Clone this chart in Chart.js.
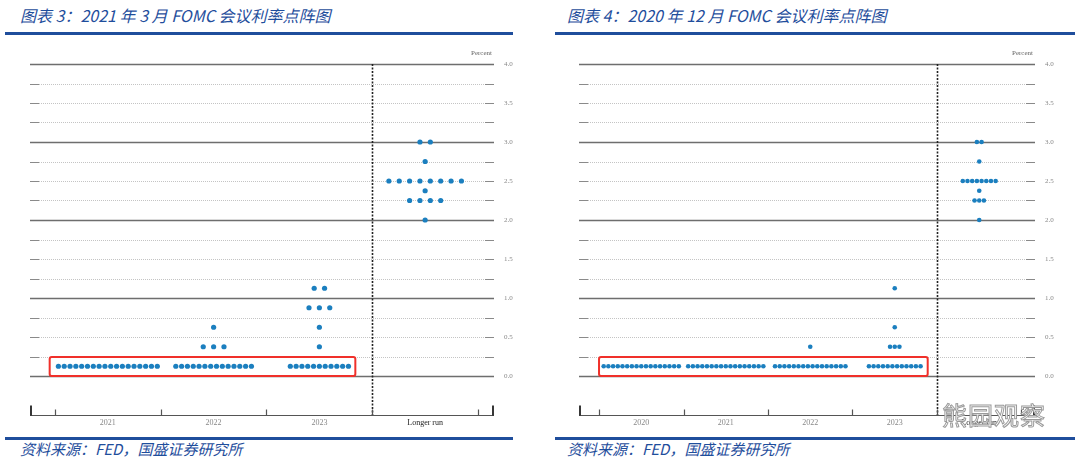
<!DOCTYPE html>
<html>
<head>
<meta charset="utf-8">
<script src="https://cdn.jsdelivr.net/npm/chart.js@4.4.1/dist/chart.umd.min.js"></script>
<style>
body { margin: 0; width: 1080px; height: 462px; background: #fff; position: relative; overflow: hidden; font-family: "Noto Sans CJK SC", sans-serif; }
.title { position: absolute; top: 3px; font-size: 16px; font-style: italic; color: #1f4e9c; white-space: nowrap; }
.source { position: absolute; top: 438px; font-size: 15px; font-style: italic; color: #1f4e9c; white-space: nowrap; }
.rule { position: absolute; height: 3px; background: #1f4e9c; }
canvas { position: absolute; top: 40px; }
.mark { position: absolute; left: 942px; top: 396px; font-size: 25px; color: #fff; -webkit-text-stroke: 1px #9a9a9a; letter-spacing: 1px; }
</style>
</head>
<body>
<div class="title" style="left:20px">图表 3：2021 年 3 月 FOMC 会议利率点阵图</div>
<div class="title" style="left:567px">图表 4：2020 年 12 月 FOMC 会议利率点阵图</div>
<div class="rule" style="left:5px; top:32px; width:508px"></div>
<div class="rule" style="left:555px; top:32px; width:520px"></div>
<canvas id="marChart" width="540" height="395" style="left:0"></canvas>
<canvas id="decChart" width="540" height="395" style="left:540px"></canvas>
<div class="rule" style="left:5px; top:437px; width:508px"></div>
<div class="rule" style="left:555px; top:437px; width:520px"></div>
<div class="source" style="left:20px">资料来源：FED，国盛证券研究所</div>
<div class="source" style="left:567px">资料来源：FED，国盛证券研究所</div>
<div class="mark">熊园观察</div>
<script>
// 2021年3月点阵图: [利率, 人数]
const marCategories = ['2021', '2022', '2023', 'Longer run'];
const mar2021 = [[0.125, 18]];
const mar2022 = [[0.125, 14], [0.375, 3], [0.625, 1]];
const mar2023 = [[0.125, 11], [0.375, 1], [0.625, 1], [0.875, 3], [1.125, 2]];
const marLonger = [[2.0, 1], [2.25, 4], [2.375, 1], [2.5, 8], [2.75, 1], [3.0, 2]];

// 2020年12月点阵图
const decCategories = ['2020', '2021', '2022', '2023', 'Longer run'];
const dec2020 = [[0.125, 17]];
const dec2021 = [[0.125, 17]];
const dec2022 = [[0.125, 16], [0.375, 1]];
const dec2023 = [[0.125, 12], [0.375, 3], [0.625, 1], [1.125, 1]];
const decLonger = [[2.0, 1], [2.25, 3], [2.375, 1], [2.5, 8], [2.75, 1], [3.0, 2]];

// 刻度
const yLabelValues = [0, 0.5, 1.0, 1.5, 2.0, 2.5, 3.0, 3.5, 4.0];
const yGridValues = [0, 0.25, 0.5, 0.75, 1.0, 1.25, 1.5, 1.75, 2.0, 2.25, 2.5, 2.75, 3.0, 3.25, 3.5, 3.75, 4.0];

// 红框 [x起, x止, y起, y止]
const marBox = [-0.55, 2.34, 0, 0.245];
const decBox = [-0.5, 3.39, 0, 0.245];

function toPoints(columns, gapFor) {
    const pts = [];
    columns.forEach((col, i) => {
        col.forEach(([rate, count]) => {
            const gap = gapFor(count);
            for (let k = 0; k < count; k++) {
                pts.push({ x: i + (k - (count - 1) / 2) * gap, y: rate });
            }
        });
    });
    return pts;
}

const dotDecor = {
    id: 'dotDecor',
    beforeDatasetsDraw(chart, args, opts) {
        const { ctx, chartArea: a, scales: { x, y } } = chart;
        ctx.save();
        yGridValues.forEach(v => {
            const py = Math.round(y.getPixelForValue(v)) + 0.5;
            ctx.setLineDash([]);
            if (v % 1 === 0) {
                ctx.strokeStyle = '#6e6e6e';
                ctx.lineWidth = 1.3;
                ctx.beginPath(); ctx.moveTo(a.left, py); ctx.lineTo(a.right, py); ctx.stroke();
            } else {
                ctx.strokeStyle = '#8a8a8a';
                ctx.lineWidth = 1.2;
                ctx.beginPath();
                ctx.moveTo(a.left, py); ctx.lineTo(a.left + 9, py);
                ctx.moveTo(a.right - 9, py); ctx.lineTo(a.right, py);
                ctx.stroke();
                ctx.strokeStyle = '#c4c4c4';
                ctx.lineWidth = 1;
                ctx.setLineDash([1, 1]);
                ctx.beginPath(); ctx.moveTo(a.left + 9, py); ctx.lineTo(a.right - 9, py); ctx.stroke();
            }
        });

        // 分隔虚线
        const dx = Math.round(x.getPixelForValue(opts.divider)) + 0.5;
        ctx.setLineDash([2, 1.5]);
        ctx.strokeStyle = '#222';
        ctx.lineWidth = 1.6;
        ctx.beginPath(); ctx.moveTo(dx, y.getPixelForValue(4)); ctx.lineTo(dx, a.bottom); ctx.stroke();

        // x轴
        ctx.setLineDash([]);
        ctx.strokeStyle = '#555';
        ctx.lineWidth = 1.2;
        const by = a.bottom + 0.5;
        ctx.beginPath(); ctx.moveTo(a.left, by); ctx.lineTo(a.right, by); ctx.stroke();
        ctx.beginPath();
        opts.bounds.forEach(b => {
            const px = Math.round(x.getPixelForValue(b)) + 0.5;
            ctx.moveTo(px, by); ctx.lineTo(px, by - 6);
        });
        ctx.stroke();
        ctx.lineWidth = 1.8;
        ctx.strokeStyle = '#222';
        ctx.beginPath();
        ctx.moveTo(a.left + 1, by); ctx.lineTo(a.left + 1, by - 10);
        ctx.moveTo(a.right - 1, by); ctx.lineTo(a.right - 1, by - 10);
        ctx.stroke();

        ctx.fillStyle = '#666';
        ctx.font = '7px "Liberation Serif"';
        ctx.textAlign = 'right';
        ctx.fillText('Percent', a.right - 2, y.getPixelForValue(4) - 9);
        ctx.restore();
    },
    afterDatasetsDraw(chart, args, opts) {
        const { ctx, scales: { x, y } } = chart;
        const [x0, x1, y0, y1] = opts.box;
        const l = x.getPixelForValue(x0), r = x.getPixelForValue(x1);
        const t = y.getPixelForValue(y1), b = y.getPixelForValue(y0);
        ctx.save();
        ctx.strokeStyle = '#f0302a';
        ctx.lineWidth = 2;
        ctx.beginPath();
        ctx.roundRect(l, t, r - l, b - t, 2);
        ctx.stroke();
        ctx.restore();
    }
};

function makeDotChart(id, categories, columns, gapFor, box, xMin, xMax, padLeft, radius) {
    const bounds = [];
    for (let i = 0; i <= categories.length; i++) bounds.push(i - 0.5);
    return new Chart(document.getElementById(id), {
        type: 'scatter',
        data: {
            datasets: [{
                data: toPoints(columns, gapFor),
                backgroundColor: '#1b7fbf',
                borderWidth: 0,
                pointRadius: radius,
                pointHoverRadius: radius
            }]
        },
        options: {
            responsive: false,
            animation: false,
            devicePixelRatio: 1,
            layout: { padding: { left: padLeft, top: 24, right: 0, bottom: 0 } },
            plugins: {
                legend: { display: false },
                tooltip: { enabled: false },
                dotDecor: { divider: categories.length - 1.5, bounds: bounds, box: box }
            },
            scales: {
                x: {
                    type: 'linear',
                    min: xMin,
                    max: xMax,
                    grid: { display: false, drawTicks: false },
                    border: { display: false },
                    afterBuildTicks: s => { s.ticks = categories.map((c, i) => ({ value: i })); },
                    afterFit: s => { s.height = 20; },
                    ticks: {
                        padding: 3,
                        maxRotation: 0,
                        autoSkip: false,
                        font: { family: 'Liberation Serif', size: 8 },
                        color: c => (c.index === categories.length - 1 ? '#222' : '#888'),
                        callback: v => categories[v]
                    }
                },
                y: {
                    position: 'right',
                    min: -0.5,
                    max: 4,
                    grid: { display: false, drawTicks: false },
                    border: { display: false },
                    afterBuildTicks: s => { s.ticks = yLabelValues.map(v => ({ value: v })); },
                    afterFit: s => { s.width = 540 - padLeft - 464 + (padLeft === 39 ? 8 : 0); },
                    ticks: {
                        padding: 10,
                        font: { family: 'Liberation Serif', size: 7 },
                        color: '#888',
                        callback: v => v.toFixed(1)
                    }
                }
            }
        },
        plugins: [dotDecor]
    });
}

makeDotChart('marChart', marCategories, [mar2021, mar2022, mar2023, marLonger],
    n => (n >= 10 ? 0.055 : 0.098), marBox, -0.736, 3.651, 30, 2.6);
makeDotChart('decChart', decCategories, [dec2020, dec2021, dec2022, dec2023, decLonger],
    n => 0.0556, decBox, -0.737, 4.66, 39, 2.3);
</script>
</body>
</html>
